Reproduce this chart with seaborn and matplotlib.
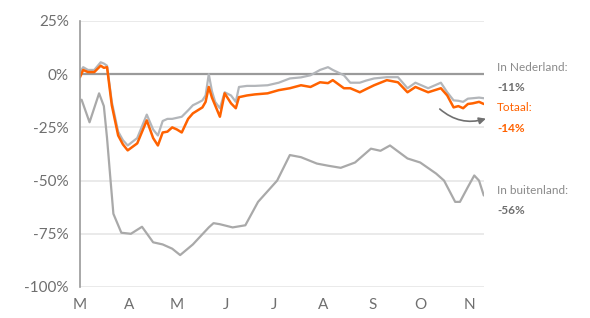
import seaborn as sns
import matplotlib.pyplot as plt
import pandas as pd

# days since 1 March
days_nl = [0, 2, 5, 9, 13, 15, 17, 20, 24, 27, 30, 36, 42, 46, 49, 52, 55, 58, 61, 64,
           68, 71, 74, 77, 79, 81, 83, 85, 88, 91, 95, 98, 100, 105, 110, 118, 125, 132,
           139, 145, 151, 156, 159, 166, 170, 176, 180, 185, 193, 200, 206, 211, 219,
           227, 231, 235, 238, 241, 244, 247, 251, 254]
totaal = [-1.4, 2, 1, 1, 4, 3, 3.3, -14.6, -28.8, -33, -35.8, -32.5, -21.7, -30, -33.5,
          -27.4, -27, -25, -26, -27.4, -21, -18.4, -17, -15.6, -13, -6, -11, -14.6, -20,
          -9, -13.7, -16, -10.8, -10, -9.5, -9, -7.5, -6.6, -5.2, -6, -3.8, -4.2, -2.8,
          -6.6, -6.6, -8.5, -7, -5.2, -2.8, -3.8, -8.5, -6, -8.5, -6.6, -10, -15.6, -15,
          -16, -14, -13.7, -13, -14]
nederland = [1, 3.3, 2, 2, 5.6, 5, 4, -13, -27, -31, -33.5, -30, -19, -26, -28.8, -22,
             -21, -21, -20.5, -20, -17, -14.6, -13.5, -12.3, -10, 0, -8, -13, -16, -8.5,
             -10, -13, -6, -5.5, -5.5, -5.2, -4, -2, -1.5, -0.5, 2, 3.3, 2, -0.5, -4, -4,
             -3, -2, -1.4, -1.4, -6.6, -4, -6.6, -4, -8.5, -12.3, -12.5, -13, -11.5,
             -11.3, -11, -11.3]

days_bl = [1, 6, 12, 15, 17, 19, 21, 26, 32, 39, 46, 52, 58, 63, 71, 81, 84, 88, 96, 104,
           112, 124, 132, 139, 149, 156, 164, 173, 183, 189, 195, 206, 214, 224, 229, 236,
           239, 244, 248, 251, 254]
buitenland = [-12, -22.6, -9, -15, -30, -48, -65.6, -74.5, -75, -71.7, -79, -80, -82, -85,
              -80, -72, -70, -70.5, -72, -71, -60, -50, -38, -39, -42, -43, -44, -41.5,
              -35, -36, -33.5, -39.6, -41.5, -46.7, -50, -60, -60, -53, -47.6, -50, -57]

month_days = [0, 31, 61, 92, 122, 153, 184, 214, 245]
month_labels = ['M', 'A', 'M', 'J', 'J', 'A', 'S', 'O', 'N']
y_ticks = [25, 0, -25, -50, -75, -100]

df_main = pd.DataFrame({'dag': days_nl, 'Totaal': totaal, 'Nederland': nederland})
df_bl = pd.DataFrame({'dag': days_bl, 'Buitenland': buitenland})

sns.set_style('white')
plt.rcParams['font.family'] = ['Lato', 'DejaVu Sans']

fig = plt.figure(figsize=(5.9, 3.18), dpi=100)
ax = fig.add_axes([0.1356, 0.0975, 0.6844, 0.8365])

grey_txt = '#6f6f6f'
orange = '#ff6200'
line_grey = '#a9a9a9'

for y in [25, -25, -50, -75, -100]:
    ax.axhline(y, color='#e6e6e6', lw=1.2, zorder=0)
ax.axhline(0, color='#9a9a9a', lw=1.6, zorder=1)

sns.lineplot(data=df_bl, x='dag', y='Buitenland', color=line_grey, lw=1.6, ax=ax)
sns.lineplot(data=df_main, x='dag', y='Nederland', color='#b3b6ba', lw=1.6, ax=ax)
sns.lineplot(data=df_main, x='dag', y='Totaal', color=orange, lw=1.8, ax=ax)

ax.set_xlim(0, 254)
ax.set_ylim(-100, 25)
ax.set_yticks(y_ticks)
ax.set_yticklabels([f'{v}%' for v in y_ticks], fontsize=11, color=grey_txt)
ax.set_xticks(month_days)
ax.set_xticklabels(month_labels, fontsize=11, color=grey_txt)
ax.tick_params(axis='both', length=0, pad=8)
ax.set_xlabel('')
ax.set_ylabel('')
for s in ['top', 'right', 'bottom']:
    ax.spines[s].set_visible(False)
ax.spines['left'].set_color('#9a9a9a')
ax.spines['left'].set_linewidth(1.2)

ax.annotate('', xy=(257, -20.5), xytext=(225, -15.5),
            arrowprops=dict(arrowstyle='-|>', color='#707070', lw=1.2,
                            connectionstyle='arc3,rad=0.3'),
            annotation_clip=False)

kw = dict(transform=fig.transFigure, fontsize=8.5, ha='left', va='center')
fig.text(497 / 590, 1 - 68 / 318, 'In Nederland:', color='#8a8a8a', **kw)
fig.text(497 / 590, 1 - 87 / 318, '-11%', color=grey_txt, fontweight='bold', **kw)
fig.text(497 / 590, 1 - 108 / 318, 'Totaal:', color=orange, **kw)
fig.text(497 / 590, 1 - 128 / 318, '-14%', color=orange, fontweight='bold', **kw)
fig.text(497 / 590, 1 - 190 / 318, 'In buitenland:', color='#8a8a8a', **kw)
fig.text(497 / 590, 1 - 211 / 318, '-56%', color=grey_txt, fontweight='bold', **kw)

plt.savefig('out.png', dpi=100)
